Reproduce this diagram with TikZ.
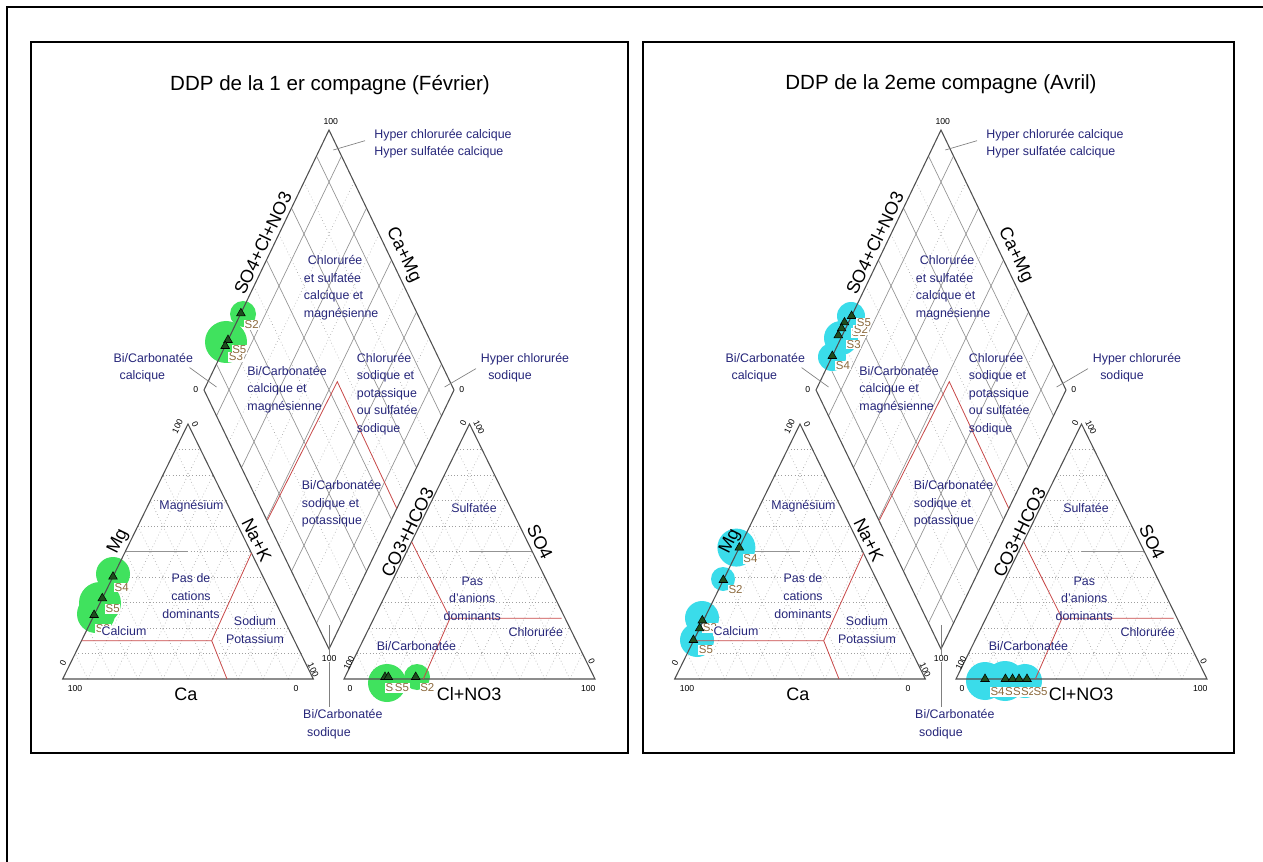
\documentclass[tikz,border=0pt]{standalone}
\usepackage{fontspec}
\setmainfont{Liberation Sans}
\usetikzlibrary{calc,shapes.geometric}
\definecolor{navy}{HTML}{26267A}
\definecolor{sbrown}{HTML}{8C6A3E}
\definecolor{gblob}{HTML}{40E25E}
\definecolor{cblob}{HTML}{3ADCEA}
\definecolor{redl}{HTML}{C84848}
\definecolor{edgec}{HTML}{505050}
\definecolor{markc}{HTML}{1E4D1E}
\tikzset{
 edgeline/.style={draw=edgec,line width=0.8pt},
 gridd/.style={draw=gray!75,line width=0.45pt,dotted},
 grids/.style={draw=gray!85,line width=0.5pt},
 redline/.style={draw=redl,line width=0.6pt},
 region/.style={text=navy,font=\fontsize{9.3}{13.2}\selectfont,inner sep=0.5pt,align=left},
 regionc/.style={region,align=center},
 axislab/.style={font=\fontsize{13.5}{15}\selectfont,inner sep=0pt},
 tick/.style={font=\fontsize{6.5}{7}\selectfont,inner sep=0.5pt},
 slabel/.style={text=sbrown,font=\fontsize{8.6}{9}\selectfont,fill=white,inner sep=0.4pt},
 ttl/.style={font=\fontsize{15.4}{17}\selectfont,inner sep=0pt},
 leader/.style={draw=gray,line width=0.5pt},
 smark/.style={regular polygon,regular polygon sides=3,fill=markc,draw=black,line width=0.4pt,minimum size=7.5pt,inner sep=0pt},
 frame/.style={draw=black,line width=1.6pt}
}
% grid part
\newcommand\pipergrid[1]{%
 \coordinate (#1A) at (62.7,679);
 \coordinate (#1B) at (313.3,679);
 \coordinate (#1C) at (188,424);
 \coordinate (#1D) at (344,679);
 \coordinate (#1E) at (595,679);
 \coordinate (#1F) at (469.5,424);
 \coordinate (#1P) at (329,649);
 \coordinate (#1Q) at (204,390);
 \coordinate (#1R) at (329,130);
 \coordinate (#1S) at (454,390);
 \foreach \k in {1,...,9}{%
  \pgfmathsetmacro\u{\k/10}%
  \draw[gridd] ($(#1A)!\u!(#1C)$) -- ($(#1B)!\u!(#1C)$);
  \draw[gridd] ($(#1A)!\u!(#1B)$) -- ($(#1C)!\u!(#1B)$);
  \draw[gridd] ($(#1B)!\u!(#1A)$) -- ($(#1C)!\u!(#1A)$);
  \draw[gridd] ($(#1D)!\u!(#1F)$) -- ($(#1E)!\u!(#1F)$);
  \draw[gridd] ($(#1D)!\u!(#1E)$) -- ($(#1F)!\u!(#1E)$);
  \draw[gridd] ($(#1E)!\u!(#1D)$) -- ($(#1F)!\u!(#1D)$);
 }
 \foreach \k in {2,4,6,8}{%
  \pgfmathsetmacro\u{\k/10}%
  \draw[gridd] ($(#1Q)!\u!(#1P)$) -- ($(#1R)!\u!(#1S)$);
  \draw[gridd] ($(#1Q)!\u!(#1R)$) -- ($(#1P)!\u!(#1S)$);
 }
 \foreach \k in {1,3,5,7,9}{%
  \pgfmathsetmacro\u{\k/10}%
  \draw[grids] ($(#1Q)!\u!(#1P)$) -- ($(#1R)!\u!(#1S)$);
  \draw[grids] ($(#1Q)!\u!(#1R)$) -- ($(#1P)!\u!(#1S)$);
 }
 \draw[grids] ($(#1A)!0.5!(#1C)$) -- ($(#1A)!0.5!(#1B)!0.5!(#1C)$);
 \draw[grids] ($(#1D)!0.5!(#1E)!0.5!(#1F)$) -- ($(#1E)!0.5!(#1F)$);
}
% front part
\newcommand\piperfront[1]{%
 \draw[edgeline] (#1A) -- (#1B) -- (#1C) -- cycle;
 \draw[edgeline] (#1D) -- (#1E) -- (#1F) -- cycle;
 \draw[edgeline] (#1P) -- (#1Q) -- (#1R) -- (#1S) -- cycle;
 % red classification lines
 \draw[redline] (81.5,640.7) -- (211.7,640.7) -- (227,679);
 \draw[redline] (211.7,640.7) -- (251.5,553);
 \draw[redline] (267.5,520) -- (337.3,381.7) -- (396.7,508.3);
 \draw[redline] (411.6,541.7) -- (450,618.3) -- (561.7,618.3);
 \draw[redline] (450,618.3) -- (423.3,679);
 % leaders
 \draw[leader] (333.3,150) -- (365,140.7);
 \draw[leader] (189.6,367.6) -- (216.5,387);
 \draw[leader] (476,368.6) -- (444.6,387);
 \draw[leader] (329.2,625) -- (329.2,707);
 % ticks
 \node[tick] (#1t1) at (330.8,121.7) {100};
 \node[tick] (#1t2) at (195.8,390) {0};
 \node[tick] (#1t3) at (461.7,390) {0};
 \node[tick,fill=white] (#1t4) at (329.2,658.3) {100};
 \node[tick,rotate=64] (#1t5) at (177.5,426.5) {100};
 \node[tick,rotate=-64] (#1t6) at (195,424) {0};
 \node[tick,rotate=64] (#1t7) at (63,663) {0};
 \node[tick,rotate=-64] (#1t8) at (313.3,670) {100};
 \node[tick] (#1t9) at (75,688.5) {100};
 \node[tick] (#1t10) at (296,688.5) {0};
 \node[tick,rotate=64] (#1t11) at (463.3,423.3) {0};
 \node[tick,rotate=-64] (#1t12) at (479,427.5) {100};
 \node[tick,rotate=64] (#1t13) at (349,663) {100};
 \node[tick] (#1t14) at (350,689) {0};
 \node[tick] (#1t15) at (588.3,689) {100};
 \node[tick,rotate=-64] (#1t16) at (591.7,661) {0};
 % axis labels
 \node[axislab,rotate=64.4] (#1x1) at (262.7,243) {SO4+Cl+NO3};
 \node[axislab,rotate=-64.4] (#1x2) at (403.3,255) {Ca+Mg};
 \node[axislab,rotate=63.8] (#1x3) at (118.3,541.7) {Mg};
 \node[axislab,rotate=-63.8] (#1x4) at (256.7,540) {Na+K};
 \node[axislab] (#1x5) at (185.8,694.2) {Ca};
 \node[axislab,rotate=63.8] (#1x6) at (407.5,532.5) {CO3+HCO3};
 \node[axislab,rotate=-63.8] (#1x7) at (540,541.7) {SO4};
 \node[axislab] (#1x8) at (469.2,694.2) {Cl+NO3};
 % region labels
 \node[region,anchor=west] (#1r1) at (373.5,143.6) {Hyper chlorurée calcique\\Hyper sulfatée calcique};
 \node[region,anchor=west] (#1r2) at (112.7,367.6) {Bi/Carbonatée\\\hspace*{4.5pt}calcique};
 \node[region,anchor=west] (#1r3) at (480,367.6) {Hyper chlorurée\\\hspace*{5.5pt}sodique};
 \node[region,anchor=west] (#1r4) at (303,287.6) {\hspace*{3pt}Chlorurée\\et sulfatée\\calcique et\\magnésienne};
 \node[region,anchor=west] (#1r5) at (246.5,389.6) {Bi/Carbonatée\\calcique et\\magnésienne};
 \node[region,anchor=west] (#1r6) at (356,394.1) {Chlorurée\\sodique et\\potassique\\ou sulfatée\\sodique};
 \node[region,anchor=west] (#1r7) at (301,504) {Bi/Carbonatée\\sodique et\\potassique};
 \node[region] (#1r8) at (191.5,506) {Magnésium};
 \node[regionc] (#1r9) at (191,596) {Pas de\\cations\\dominants};
 \node[region,fill=white] (#1r10) at (124,631) {Calcium};
 \node[regionc] (#1r11) at (255,630) {Sodium\\Potassium};
 \node[region] (#1r12) at (474,508.4) {Sulfatée};
 \node[regionc] (#1r13) at (472.3,598.4) {Pas\\d'anions\\dominants};
 \node[region] (#1r14) at (535.8,632) {Chlorurée};
 \node[region] (#1r15) at (416.5,646) {Bi/Carbonatée};
 \node[region,anchor=west] (#1r16) at (302.3,724) {Bi/Carbonatée\\\hspace*{3pt}sodique};
}
\begin{document}
\begin{tikzpicture}[x=0.75pt,y=-0.75pt]
\useasboundingbox (0,0) rectangle (1263,862);
\fill[white] (0,0) rectangle (1263,862);
\draw[black,line width=1.5pt] (7,862) -- (7,7) -- (1263,7);
\draw[frame] (31,42) rectangle (628,753);
\draw[frame] (643,42) rectangle (1234,753);
% ---------------- left panel
\begin{scope}
 \pipergrid{L}
 \fill[gblob] (113,574) circle[radius=17];
 \fill[gblob] (100,603) circle[radius=21];
 \fill[gblob] (96,614) circle[radius=19];
 \fill[gblob] (243,314) circle[radius=13];
 \fill[gblob] (226,342) circle[radius=21];
 \fill[gblob] (387,683) circle[radius=19];
 \fill[gblob] (417,677) circle[radius=13];
 \node[slabel] (Ls3a) at (103,628.7) {S3};
 \piperfront{L}
 \node[smark] (Lm1) at (113,576.7) {};
 \node[smark] (Lm2) at (102.3,598.3) {};
 \node[smark] (Lm3) at (94.1,615) {};
 \node[smark] (Lm4) at (240.9,313.3) {};
 \node[smark] (Lm5) at (228,340) {};
 \node[smark] (Lm6) at (225.2,346) {};
 \node[smark] (Lm7) at (385,677) {};
 \node[smark] (Lm8) at (388.3,677) {};
 \node[smark] (Lm9) at (415.7,677) {};
 \node[slabel] (Ls4) at (121.7,587.7) {S4};
 \node[slabel] (Ls5) at (112.7,609) {S5};
 \node[slabel] (Ls3b) at (236,357) {S3};
 \node[slabel] (Ls2b) at (251.7,325) {S2};
 \node[slabel] (Ls5b) at (239.3,349.3) {S5};
 \node[slabel] (Ls3c) at (392.7,688) {S3};
 \node[slabel] (Ls5c) at (402,688) {S5};
 \node[slabel] (Ls2c) at (427.3,688) {S2};
 \node[ttl] (Ltitle) at (330,85) {DDP de la 1 er compagne (Février)};
\end{scope}
% ---------------- right panel
\begin{scope}[shift={(612,0)}]
 \pipergrid{R}
 \fill[cblob] (124.4,547.6) circle[radius=19];
 \fill[cblob] (111,579) circle[radius=12];
 \fill[cblob] (90,618) circle[radius=17];
 \fill[cblob] (85,640) circle[radius=17];
 \fill[cblob] (239,316) circle[radius=14];
 \fill[cblob] (229,338) circle[radius=17];
 \fill[cblob] (220,357) circle[radius=14];
 \fill[cblob] (373,681) circle[radius=19];
 \fill[cblob] (393,681) circle[radius=20];
 \fill[cblob] (413,681) circle[radius=17];
 \node[slabel] (Rs3a) at (98,628) {S3};
 \piperfront{R}
 \node[smark] (Rm1) at (127.3,547.6) {};
 \node[smark] (Rm2) at (111.3,580) {};
 \node[smark] (Rm3) at (90.3,620.5) {};
 \node[smark] (Rm4) at (87.6,628.4) {};
 \node[smark] (Rm5) at (81.4,640) {};
 \node[smark] (Rm6) at (239.6,316) {};
 \node[smark] (Rm7) at (232.5,322.4) {};
 \node[smark] (Rm8) at (229.6,328.4) {};
 \node[smark] (Rm9) at (226.3,335.3) {};
 \node[smark] (Rm10) at (220.3,356) {};
 \node[smark] (Rm11) at (373,679) {};
 \node[smark] (Rm12) at (393.4,679) {};
 \node[smark] (Rm13) at (400.5,679) {};
 \node[smark] (Rm14) at (407,679) {};
 \node[smark] (Rm15) at (415,679) {};
 \node[slabel] (Rs4) at (138.5,559) {S4};
 \node[slabel] (Rs2) at (123.6,590) {S2};
 \node[slabel] (Rs5) at (94,650) {S5};
 \node[slabel] (Rs4b) at (231,365.3) {S4};
 \node[slabel] (Rs3b) at (241.7,344.6) {S3};
 \node[slabel] (Rs1b) at (246.8,333) {S1};
 \node[slabel] (Rs2b) at (249,330) {S2};
 \node[slabel] (Rs5b) at (251.9,322.9) {S5};
 \node[slabel] (Rs4c) at (385.6,692) {S4};
 \node[slabel] (Rs3c) at (400,692) {S3};
 \node[slabel] (Rs1c) at (408,692) {S1};
 \node[slabel] (Rs2c) at (416,692) {S2};
 \node[slabel] (Rs5c) at (428.6,692) {S5};
 \node[ttl] (Rtitle) at (329,84) {DDP de la 2eme compagne (Avril)};
\end{scope}
\end{tikzpicture}
\end{document}
